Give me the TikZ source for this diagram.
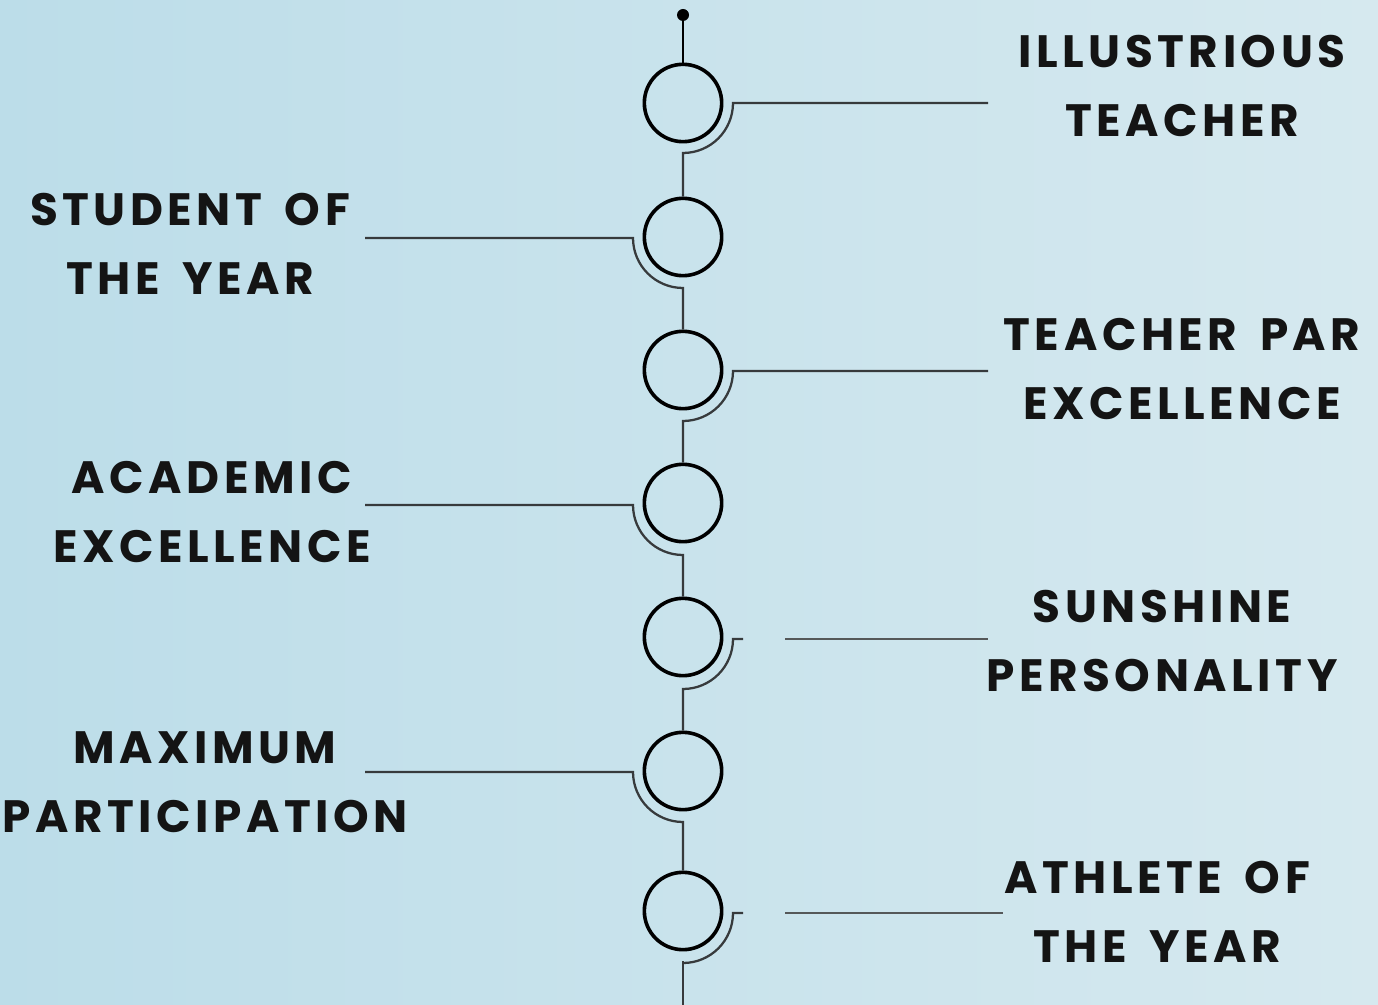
\documentclass[tikz,border=0pt]{standalone}
\usepackage{fontspec}
\setmainfont{Poppins}[LetterSpace=10, WordSpace=1.6]
\usepackage{tikz}
\def\width{1378}
\def\hauteur{1005}
\def\axe{683}
\definecolor{paperleft}{RGB}{188,221,233}
\definecolor{paperright}{RGB}{214,233,239}
\definecolor{hookgray}{RGB}{55,58,60}
\begin{document}
\begin{tikzpicture}[x=0.75pt, y=-0.75pt,
  ring/.style={circle, draw=black, line width=2.7pt, minimum size=58pt, inner sep=0pt},
  hook/.style={draw=hookgray, line width=1.7pt},
  thin hook/.style={draw=hookgray!85, line width=1.3pt},
  award/.style={align=center, font=\fontsize{34}{52}\selectfont\bfseries, text=black!92}]
% paper
\useasboundingbox (0,0) rectangle (\width,\hauteur);
\shade[left color=paperleft, right color=paperright] (0,0) rectangle (\width,\hauteur);

% rings
\foreach \n/\y in {1/103, 2/237, 3/370, 4/503, 5/637, 6/771, 7/911}
  \node[ring] (c\n) at (\axe,\y) {};

% top pin and bottom end
\coordinate (pin) at (\axe,15);
\coordinate (bot) at (\axe,\hauteur);
\fill (pin) circle (6);
\draw[line width=1.7pt] (pin) -- (c1.north);
\draw[hook] (c7.south) ++(0,10) -- (bot);

% labels
\node[award] (t1) at (1182,86) {ILLUSTRIOUS\\TEACHER};
\node[award] (t2) at (190,244) {STUDENT OF\\THE YEAR};
\node[award] (t3) at (1182,369) {TEACHER PAR\\EXCELLENCE};
\node[award] (t4) at (212,512) {ACADEMIC\\EXCELLENCE};
\node[award] (t5) at (1162,641) {SUNSHINE\\PERSONALITY};
\node[award] (t6) at (205,782) {MAXIMUM\\PARTICIPATION};
\node[award] (t7) at (1157,912) {ATHLETE OF\\THE YEAR};

% line ends
\coordinate (e1) at (988,103);
\coordinate (e2) at (365,238);
\coordinate (e3) at (988,371);
\coordinate (e4) at (365,505);
\coordinate (e6) at (365,772);
\coordinate (s5) at (785,639);
\coordinate (e5) at (988,639);
\coordinate (s7) at (785,913);
\coordinate (e7) at (1003,913);

% hooks, right side
\draw[hook] (e1) -- (733,103) arc[start angle=0, end angle=90, radius=50] -- (c2.north);
\draw[hook] (e3) -- (733,371) arc[start angle=0, end angle=90, radius=50] -- (c4.north);
% hooks, left side
\draw[hook] (e2) -- (633,238) arc[start angle=180, end angle=90, radius=50] -- (c3.north);
\draw[hook] (e4) -- (633,505) arc[start angle=180, end angle=90, radius=50] -- (c5.north);
\draw[hook] (e6) -- (633,772) arc[start angle=180, end angle=90, radius=50] -- (c7.north);
% open hooks
\draw[thin hook] (s5) -- (e5);
\draw[hook] (743,639) -- (733,639) arc[start angle=0, end angle=90, radius=50] -- (c6.north);
\draw[thin hook] (s7) -- (e7);
\draw[hook] (743,913) -- (733,913) arc[start angle=0, end angle=90, radius=50];
\end{tikzpicture}
\end{document}
